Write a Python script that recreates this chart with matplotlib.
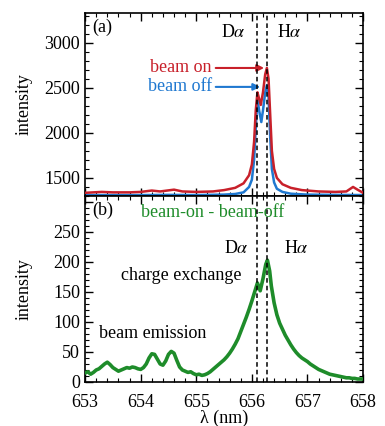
import matplotlib
matplotlib.use("Agg")
import matplotlib.pyplot as plt
from matplotlib.ticker import MultipleLocator

plt.rcParams['font.family'] = ['Liberation Serif', 'DejaVu Serif']
plt.rcParams['mathtext.fontset'] = 'stix'

# ---- data (top panel) ----
wl_on = [653.0, 653.3, 653.5, 653.8, 654.0, 654.2, 654.35, 654.6, 654.75, 655.0,
         655.3, 655.5, 655.7, 655.85, 655.95, 656.0, 656.04, 656.07, 656.1, 656.13,
         656.16, 656.2, 656.24, 656.27, 656.3, 656.33, 656.36, 656.4, 656.45, 656.55,
         656.7, 656.9, 657.2, 657.5, 657.7, 657.82, 657.9, 658.0]
beam_on = [1335, 1345, 1340, 1340, 1345, 1360, 1350, 1370, 1350, 1345,
           1350, 1365, 1390, 1440, 1530, 1650, 1900, 2250, 2450, 2380,
           2310, 2450, 2650, 2720, 2600, 2200, 1800, 1600, 1500, 1430,
           1390, 1365, 1350, 1345, 1350, 1400, 1370, 1335]

wl_off = [653.0, 653.5, 654.0, 654.5, 655.0, 655.5, 655.7, 655.85, 655.95, 656.0,
          656.04, 656.07, 656.1, 656.13, 656.17, 656.2, 656.24, 656.27, 656.3, 656.33,
          656.36, 656.4, 656.45, 656.55, 656.7, 657.0, 657.5, 658.0]
beam_off = [1310, 1310, 1310, 1312, 1310, 1315, 1322, 1340, 1400, 1480,
            1700, 2050, 2380, 2250, 2120, 2250, 2450, 2530, 2400, 1950,
            1600, 1450, 1380, 1345, 1325, 1315, 1312, 1310]

# ---- data (bottom panel) ----
wl_diff = [653.00, 653.05, 653.10, 653.15, 653.20, 653.25, 653.30, 653.35, 653.40, 653.45,
           653.50, 653.55, 653.60, 653.65, 653.70, 653.75, 653.80, 653.85, 653.90, 653.95,
           654.00, 654.05, 654.10, 654.15, 654.20, 654.25, 654.30, 654.35, 654.40, 654.45,
           654.50, 654.55, 654.60, 654.65, 654.70, 654.75, 654.80, 654.85, 654.90, 654.95,
           655.00, 655.05, 655.10, 655.15, 655.20, 655.25, 655.30, 655.35, 655.40, 655.45,
           655.50, 655.55, 655.60, 655.65, 655.70, 655.75, 655.80, 655.85, 655.90, 655.95,
           656.00, 656.05, 656.10, 656.15, 656.20, 656.25, 656.28, 656.32, 656.35, 656.40,
           656.45, 656.50, 656.55, 656.60, 656.65, 656.70, 656.75, 656.80, 656.85, 656.90,
           656.95, 657.00, 657.05, 657.10, 657.15, 657.20, 657.25, 657.30, 657.35, 657.40,
           657.45, 657.50, 657.55, 657.60, 657.65, 657.70, 657.75, 657.80, 657.85, 657.90,
           657.95, 658.00]
diff = [15, 17, 13, 16, 20, 22, 26, 30, 33, 29,
        24, 21, 18, 20, 22, 24, 23, 25, 24, 22,
        21, 24, 30, 40, 47, 46, 38, 30, 28, 35,
        46, 51, 48, 36, 25, 20, 18, 16, 17, 14,
        12, 13, 11, 12, 14, 17, 21, 25, 29, 33,
        37, 42, 48, 55, 63, 72, 84, 96, 108, 121,
        135, 150, 165, 152, 172, 196, 203, 185, 160, 132,
        112, 98, 88, 78, 70, 62, 55, 49, 44, 40,
        37, 34, 30, 27, 24, 21, 19, 17, 15, 13,
        12, 11, 10, 9, 8, 7, 7, 6, 6, 5,
        5, 5]

yticks_b = [0, 50, 100, 150, 200, 250, 300]
ylabels_b = ['0', '50', '100', '150', '200', '250', '']

D_alpha = 656.10
H_alpha = 656.28

red = '#c8202a'
blue = '#1f78d0'
green = '#1e8c2a'

fig = plt.figure(figsize=(3.85, 4.26), dpi=100)
ax1 = fig.add_axes([0.221, 0.540, 0.722, 0.4295])
ax2 = fig.add_axes([0.221, 0.1033, 0.722, 0.4367])

fs = 13
fa = 13

ax1.plot(wl_on, beam_on, color=red, lw=1.8, zorder=3)
ax1.plot(wl_off, beam_off, color=blue, lw=1.8, zorder=2)
ax1.set_xlim(653, 658)
ax1.set_ylim(1300, 3330)
ax1.yaxis.set_major_locator(MultipleLocator(500))
ax1.yaxis.set_minor_locator(MultipleLocator(100))
ax1.set_ylabel('intensity', fontsize=fs)
ax1.set_xticklabels([])
ax1.text(0.025, 0.97, '(a)', transform=ax1.transAxes, fontsize=fa, va='top', ha='left')
ax1.text(655.66, 3110, 'D$\\alpha$', fontsize=fa, ha='center', va='center')
ax1.text(656.68, 3110, 'H$\\alpha$', fontsize=fa, ha='center', va='center')
ax1.annotate('', xy=(656.27, 2720), xytext=(655.3, 2720),
             arrowprops=dict(arrowstyle='-|>', color=red, lw=1.5, mutation_scale=10))
ax1.text(655.28, 2720, 'beam on', color=red, fontsize=fa, ha='right', va='center')
ax1.annotate('', xy=(656.2, 2510), xytext=(655.3, 2510),
             arrowprops=dict(arrowstyle='-|>', color=blue, lw=1.5, mutation_scale=10))
ax1.text(655.28, 2510, 'beam off', color=blue, fontsize=fa, ha='right', va='center')

ax2.plot(wl_diff, diff, color=green, lw=2.6, zorder=3)
ax2.set_xlim(653, 658)
ax2.set_ylim(0, 310)
ax2.set_yticks(yticks_b, labels=ylabels_b)
ax2.yaxis.set_minor_locator(MultipleLocator(10))
ax2.set_ylabel('intensity', fontsize=fs)
ax2.set_xlabel('λ (nm)', fontsize=fs, labelpad=-1)
ax2.text(0.025, 0.97, '(b)', transform=ax2.transAxes, fontsize=fa, va='top', ha='left')
ax2.text(655.3, 282, 'beam-on - beam-off', color=green, fontsize=fa, ha='center', va='center')
ax2.text(655.73, 223, 'D$\\alpha$', fontsize=fa, ha='center', va='center')
ax2.text(656.8, 223, 'H$\\alpha$', fontsize=fa, ha='center', va='center')
ax2.text(654.73, 178, 'charge exchange', fontsize=fa, ha='center', va='center')
ax2.text(654.22, 81, 'beam emission', fontsize=fa, ha='center', va='center')

for ax in (ax1, ax2):
    ax.xaxis.set_major_locator(MultipleLocator(1))
    ax.xaxis.set_minor_locator(MultipleLocator(0.2))
    ax.tick_params(which='both', direction='in', top=True, right=True, labelsize=fs)
    ax.tick_params(which='major', length=6, width=1)
    ax.tick_params(which='minor', length=3, width=0.8)
    ax.tick_params(axis='x', which='major', pad=9)
    ax.axvline(D_alpha, color='black', ls=(0, (3, 2)), lw=1.1, zorder=4)
    ax.axvline(H_alpha, color='black', ls=(0, (3, 2)), lw=1.1, zorder=4)
    for s in ax.spines.values():
        s.set_linewidth(1.2)

ax1.yaxis.set_label_coords(-0.19, 0.5)
ax2.yaxis.set_label_coords(-0.19, 0.5)

fig.savefig('out.png', dpi=100)
